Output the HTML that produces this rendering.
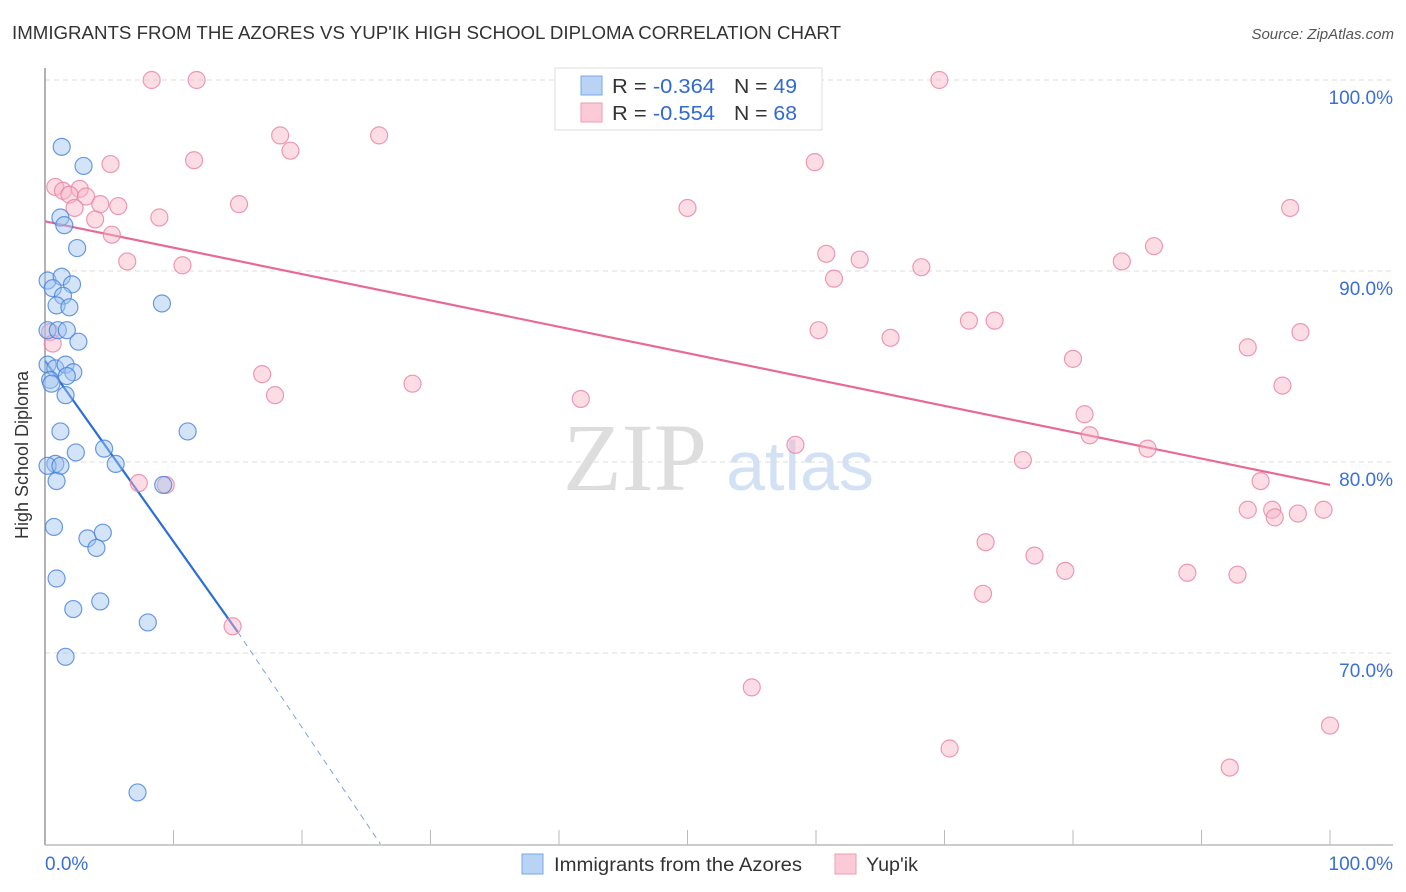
<!DOCTYPE html>
<html><head><meta charset="utf-8"><style>
body{margin:0;background:#fff;font-family:"Liberation Sans",sans-serif;}
svg{display:block}
</style></head><body>
<svg id="chart" width="1406" height="892" xmlns="http://www.w3.org/2000/svg">
<text x="12" y="39" font-size="18" fill="#333" textLength="829" lengthAdjust="spacingAndGlyphs">IMMIGRANTS FROM THE AZORES VS YUP'IK HIGH SCHOOL DIPLOMA CORRELATION CHART</text>
<text x="1394" y="39" font-size="15" fill="#555" text-anchor="end" font-style="italic">Source: ZipAtlas.com</text>
<text x="28" y="455" font-size="18" fill="#333" text-anchor="middle" transform="rotate(-90 28 455)">High School Diploma</text>
<g><text x="635" y="490" font-size="96" fill="#ddd" text-anchor="middle" font-family="Liberation Serif,serif">ZIP</text><text x="800" y="490" font-size="70" fill="#d3e1f5" text-anchor="middle">atlas</text></g>
<g id="grid"></g><g id="axes"></g><g id="lines"></g><g id="pts"></g>
<g>
<rect x="555" y="68" width="267" height="62" fill="#fff" stroke="#ddd"/>
<rect x="581" y="76" width="21" height="19" fill="#b9d3f5" stroke="#7aa7e6"/>
<rect x="581" y="103" width="21" height="19" fill="#fbcad8" stroke="#f09ab3"/>
<text x="612" y="93" font-size="20" fill="#333" textLength="103" lengthAdjust="spacingAndGlyphs">R = <tspan fill="#2f6ad0">-0.364</tspan></text>
<text x="734" y="93" font-size="20" fill="#333" textLength="63" lengthAdjust="spacingAndGlyphs">N = <tspan fill="#2f6ad0">49</tspan></text>
<text x="612" y="120" font-size="20" fill="#333" textLength="103" lengthAdjust="spacingAndGlyphs">R = <tspan fill="#2f6ad0">-0.554</tspan></text>
<text x="734" y="120" font-size="20" fill="#333" textLength="63" lengthAdjust="spacingAndGlyphs">N = <tspan fill="#2f6ad0">68</tspan></text>
</g>
<g>
<rect x="522" y="854" width="21" height="20" fill="#b9d3f5" stroke="#7aa7e6"/>
<text x="554" y="871" font-size="19" fill="#333" textLength="248" lengthAdjust="spacingAndGlyphs">Immigrants from the Azores</text>
<rect x="835" y="854" width="21" height="20" fill="#fbcad8" stroke="#f09ab3"/>
<text x="866" y="871" font-size="19" fill="#333" textLength="52" lengthAdjust="spacingAndGlyphs">Yup'ik</text>
</g>
</svg>
<script>
const yTicks=[100,90,80,70];
const xTickLabels=["0.0%","100.0%"];
const blueX=[1.3,3.0,1.2,1.5,2.5,0.2,1.3,0.6,2.1,1.4,0.9,1.9,9.1,0.2,1.0,1.7,2.6,0.2,0.8,1.6,2.2,0.4,0.5,1.7,1.6,11.1,1.2,4.6,2.4,5.5,0.8,0.2,1.2,0.9,9.2,0.7,3.3,4.5,4.0,0.9,4.3,2.2,8.0,1.6,7.2];
const blueY=[96.5,95.5,92.8,92.4,91.2,89.5,89.7,89.1,89.3,88.7,88.2,88.1,88.3,86.9,86.9,86.9,86.3,85.1,84.9,85.1,84.7,84.3,84.1,84.5,83.5,81.6,81.6,80.7,80.5,79.9,79.9,79.8,79.8,79.0,78.8,76.6,76.0,76.3,75.5,73.9,72.7,72.3,71.6,69.8,62.7];
const pinkX=[8.3,11.8,69.6,18.3,26.0,19.1,5.1,11.6,59.9,0.8,1.4,2.7,1.9,3.2,4.3,2.3,5.7,3.9,8.9,15.1,50.0,96.9,5.2,60.8,86.3,6.4,10.7,63.4,61.4,68.2,83.8,60.2,71.9,73.9,65.8,97.7,93.6,80.0,16.9,28.6,17.9,96.3,41.7,80.9,81.3,58.4,85.8,76.1,7.3,9.4,94.6,93.6,95.5,95.7,97.5,99.5,73.2,77.0,79.4,88.9,92.8,73.0,14.6,55.0,70.4,100,92.2,0.4,0.6];
const pinkY=[100,100,100,97.1,97.1,96.3,95.6,95.8,95.7,94.4,94.2,94.3,94.0,93.9,93.5,93.3,93.4,92.7,92.8,93.5,93.3,93.3,91.9,90.9,91.3,90.5,90.3,90.6,89.6,90.2,90.5,86.9,87.4,87.4,86.5,86.8,86.0,85.4,84.6,84.1,83.5,84.0,83.3,82.5,81.4,80.9,80.7,80.1,78.9,78.8,79.0,77.5,77.5,77.1,77.3,77.5,75.8,75.1,74.3,74.2,74.1,73.1,71.4,68.2,65.0,66.2,64.0,86.8,86.2];
const blueLine=[0,85.3,15,71.1,26.1,60];
const pinkLine=[0,92.6,100,78.8];
const NS="http://www.w3.org/2000/svg";
const X=v=>45+v*12.85, Y=v=>80+(100-v)*19.1;
function mk(tag,attrs,parent){const e=document.createElementNS(NS,tag);for(const k in attrs)e.setAttribute(k,attrs[k]);document.getElementById(parent).appendChild(e);return e;}
yTicks.forEach(t=>{
 const g=mk('line',{x1:45,x2:1393,y1:Y(t),y2:Y(t),stroke:'#ddd','stroke-dasharray':'5,4'},'grid');
 
 
 const l=mk('text',{x:1393,y:Y(t)+24,'font-size':19,fill:'#3a6fd8','text-anchor':'end'},'grid');
 l.textContent=t.toFixed(1)+'%';
 
 
});
const ax=mk('line',{x1:45,x2:45,y1:68,y2:845,stroke:'#999','stroke-width':1.5},'axes');


const bx=mk('line',{x1:45,x2:1393,y1:845,y2:845,stroke:'#bbb','stroke-width':1.5},'axes');


for(let i=1;i<=10;i++){const t=mk('line',{x1:X(i*10),x2:X(i*10),y1:830,y2:845,stroke:'#bbb'},'axes');
 
 }
[[0,'start'],[100,'end']].forEach((p,i)=>{const t=mk('text',{x:p[0]==0?45:1393,y:870,'font-size':19,fill:'#3a6fd8','text-anchor':p[1]},'axes');t.textContent=xTickLabels[i];
 
 });
function dot(x,y,f,s,n){const c=mk('circle',{cx:X(x),cy:Y(y),r:8.5,fill:f,stroke:s,'stroke-width':1.2},'pts');
 
 }
pinkX.forEach((x,i)=>dot(x,pinkY[i],'rgba(248,180,200,0.45)','rgba(232,130,160,0.8)','yupik-point'));
blueX.forEach((x,i)=>dot(x,blueY[i],'rgba(160,196,240,0.45)','rgba(70,130,220,0.8)','azores-point'));
const bl=mk('line',{x1:X(blueLine[0]),y1:Y(blueLine[1]),x2:X(blueLine[2]),y2:Y(blueLine[3]),stroke:'#2a6fd6','stroke-width':2.2},'lines');


const bd=mk('line',{x1:X(blueLine[2]),y1:Y(blueLine[3]),x2:X(blueLine[4]),y2:Y(blueLine[5]),stroke:'#7aa0e0','stroke-width':1,'stroke-dasharray':'6,5'},'lines');


const pl=mk('line',{x1:X(pinkLine[0]),y1:Y(pinkLine[1]),x2:X(pinkLine[2]),y2:Y(pinkLine[3]),stroke:'#e86a94','stroke-width':2.2},'lines');


</script>
</body></html>
